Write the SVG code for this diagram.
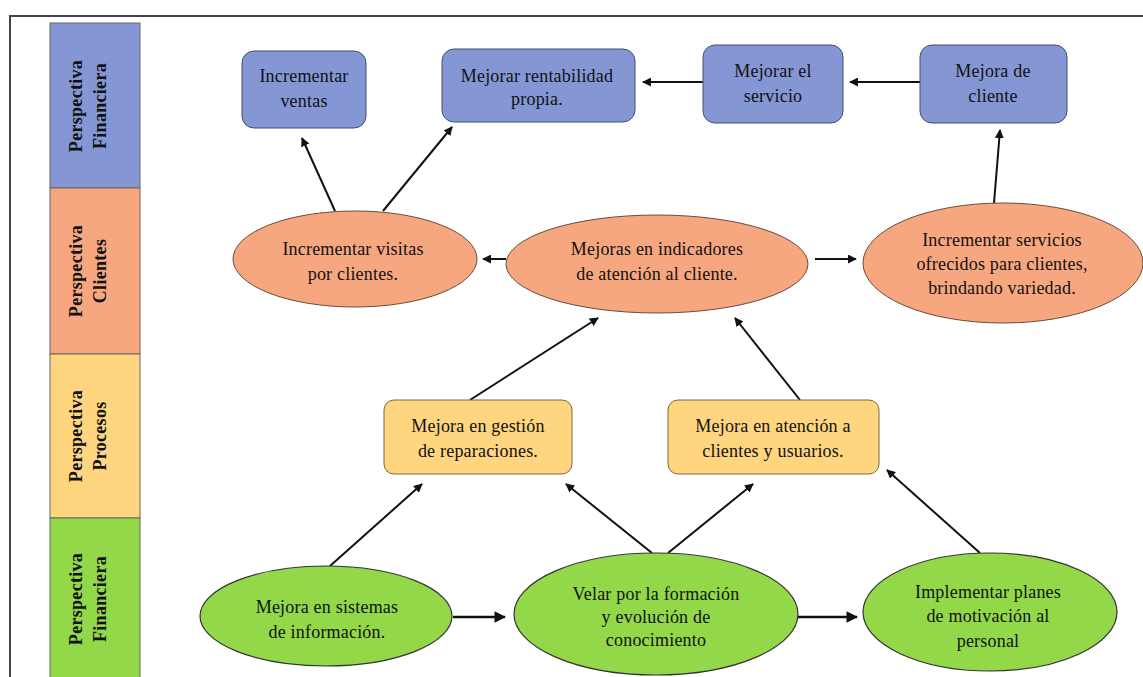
<svg xmlns="http://www.w3.org/2000/svg" width="1143" height="677" viewBox="0 0 1143 677">
<style>
text{font-family:"Liberation Serif","DejaVu Serif",serif;font-size:18px;letter-spacing:0.2px;fill:#111;text-anchor:middle}
.side{font-weight:bold;font-size:18px;letter-spacing:0.3px}
.band{stroke:#666;stroke-width:1}
.fin{fill:#8497D4;stroke:#44506e;stroke-width:1}
.cli{fill:#F7A780;stroke:#6b4a3a;stroke-width:1}
.pro{fill:#FFD580;stroke:#7a6a3a;stroke-width:1}
.apr{fill:#92D848;stroke:#333;stroke-width:1.2}
.c{stroke:#111;stroke-width:2;fill:none;marker-end:url(#ah)}
.cb{stroke:#111;stroke-width:2.6;fill:none;marker-end:url(#ah)}
</style>
<defs>
<marker id="ah" viewBox="0 0 10 10" refX="9" refY="5" markerWidth="4.5" markerHeight="4.5" orient="auto" markerUnits="strokeWidth">
<path d="M0,0 L10,5 L0,10 z" fill="#111"/>
</marker>
</defs>
<rect width="1143" height="677" fill="#fff"/>
<path d="M10,677 V16 H1143" fill="none" stroke="#444" stroke-width="2"/>

<g id="sidebar">
<rect class="band" x="50" y="23" width="90" height="165" fill="#8497D4"/>
<rect class="band" x="50" y="188" width="90" height="166" fill="#F7A780"/>
<rect class="band" x="50" y="354" width="90" height="164" fill="#FFD580"/>
<rect class="band" x="50" y="518" width="90" height="165" fill="#92D848"/>
<text class="side" transform="translate(82,106) rotate(-90)">Perspectiva</text>
<text class="side" transform="translate(106,106) rotate(-90)">Financiera</text>
<text class="side" transform="translate(82,271) rotate(-90)">Perspectiva</text>
<text class="side" transform="translate(106,271) rotate(-90)">Clientes</text>
<text class="side" transform="translate(82,436) rotate(-90)">Perspectiva</text>
<text class="side" transform="translate(106,436) rotate(-90)">Procesos</text>
<text class="side" transform="translate(82,599) rotate(-90)">Perspectiva</text>
<text class="side" transform="translate(106,599) rotate(-90)">Financiera</text>
</g>

<g id="connectors">
<line class="c" x1="703" y1="82" x2="643" y2="82"/>
<line class="c" x1="920" y1="82" x2="850" y2="82"/>
<line class="c" x1="335" y1="211" x2="302" y2="138"/>
<line class="c" x1="383" y1="211" x2="452" y2="127"/>
<line class="c" x1="994" y1="203" x2="1000" y2="130"/>
<line class="c" x1="506" y1="259" x2="483" y2="259"/>
<line class="c" x1="815" y1="259" x2="856" y2="259"/>
<line class="c" x1="470" y1="400" x2="598" y2="318"/>
<line class="c" x1="800" y1="400" x2="735" y2="318"/>
<line class="c" x1="330" y1="566" x2="422" y2="484"/>
<line class="c" x1="652" y1="553" x2="566" y2="484"/>
<line class="c" x1="668" y1="553" x2="753" y2="484"/>
<line class="c" x1="980" y1="553" x2="887" y2="470"/>
<line class="cb" x1="453" y1="617" x2="505" y2="617"/>
<line class="cb" x1="798" y1="617" x2="857" y2="617"/>
</g>

<g id="n-incrementar-ventas">
<rect class="fin" x="242" y="51" width="124" height="77" rx="12"/>
<text x="304" y="82">Incrementar</text>
<text x="304" y="107">ventas</text>
</g>
<g id="n-rentabilidad">
<rect class="fin" x="442" y="49" width="193" height="73" rx="12"/>
<text x="537" y="82">Mejorar rentabilidad</text>
<text x="537" y="105">propia.</text>
</g>
<g id="n-servicio">
<rect class="fin" x="703" y="45" width="140" height="78" rx="12"/>
<text x="773" y="77">Mejorar el</text>
<text x="773" y="102">servicio</text>
</g>
<g id="n-mejora-cliente">
<rect class="fin" x="920" y="45" width="147" height="78" rx="12"/>
<text x="993" y="77">Mejora de</text>
<text x="993" y="102">cliente</text>
</g>

<g id="n-visitas">
<ellipse class="cli" cx="355" cy="259" rx="122" ry="48"/>
<text x="353" y="255">Incrementar visitas</text>
<text x="353" y="280">por clientes.</text>
</g>
<g id="n-indicadores">
<ellipse class="cli" cx="657" cy="264" rx="151" ry="49"/>
<text x="657" y="255">Mejoras en indicadores</text>
<text x="657" y="280">de atención al cliente.</text>
</g>
<g id="n-servicios">
<ellipse class="cli" cx="1003" cy="263" rx="140" ry="60"/>
<text x="1002" y="246">Incrementar servicios</text>
<text x="1002" y="270">ofrecidos para clientes,</text>
<text x="1002" y="294">brindando variedad.</text>
</g>

<g id="n-reparaciones">
<rect class="pro" x="384" y="400" width="188" height="74" rx="10"/>
<text x="478" y="432">Mejora en gestión</text>
<text x="478" y="457">de reparaciones.</text>
</g>
<g id="n-atencion">
<rect class="pro" x="668" y="400" width="211" height="74" rx="10"/>
<text x="773" y="432">Mejora en atención a</text>
<text x="773" y="457">clientes y usuarios.</text>
</g>

<g id="n-sistemas">
<ellipse class="apr" cx="326" cy="616" rx="126" ry="50"/>
<text x="327" y="613">Mejora en sistemas</text>
<text x="327" y="638">de información.</text>
</g>
<g id="n-formacion">
<ellipse class="apr" cx="656" cy="614" rx="142" ry="61"/>
<text x="656" y="600">Velar por la formación</text>
<text x="656" y="623">y evolución de</text>
<text x="656" y="646">conocimiento</text>
</g>
<g id="n-motivacion">
<ellipse class="apr" cx="990" cy="612" rx="127" ry="59"/>
<text x="988" y="598">Implementar planes</text>
<text x="988" y="622">de motivación al</text>
<text x="988" y="647">personal</text>
</g>
</svg>
